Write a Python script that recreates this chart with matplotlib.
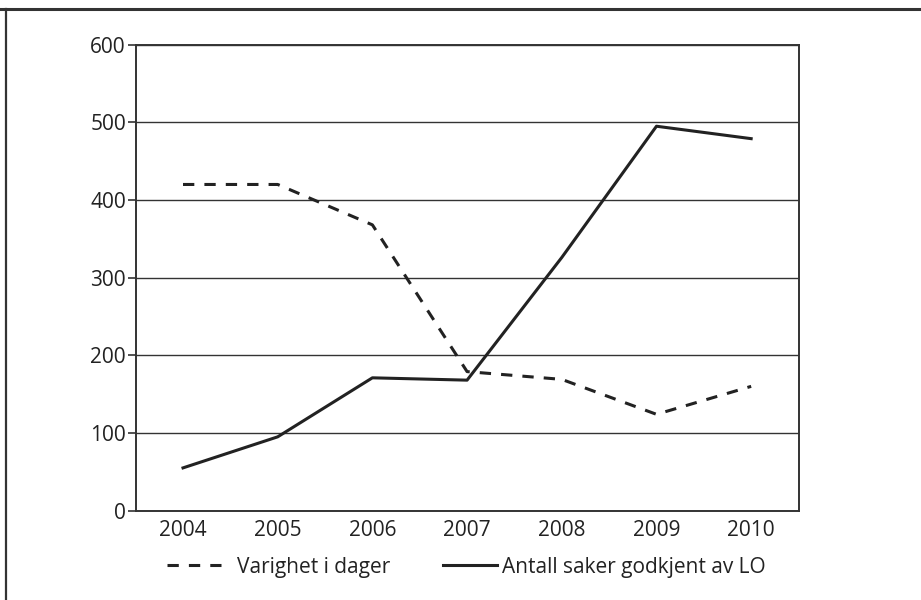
import matplotlib.pyplot as plt
from matplotlib.lines import Line2D

# Data
years = ['2004', '2005', '2006', '2007', '2008', '2009', '2010']
varighet = [420, 420, 368, 179, 169, 124, 160]
antall_saker = [55, 95, 171, 168, 326, 495, 479]
y_ticks = [0, 100, 200, 300, 400, 500, 600]

plt.rcParams['font.family'] = ['Open Sans', 'DejaVu Sans']

fig = plt.figure(figsize=(9.21, 6), dpi=100)
ax = fig.add_axes([0.1473, 0.149, 0.7197, 0.7765])

x = range(len(years))
line1, = ax.plot(x, varighet, color='#222222', lw=2.2, dashes=(3.7, 3.3))
line2, = ax.plot(x, antall_saker, color='#222222', lw=2.2)

ax.set_xlim(-0.5, len(years) - 0.5)
ax.set_ylim(0, 600)
ax.set_yticks(y_ticks)
ax.set_xticks(list(x))
ax.set_xticklabels(years)

# horizontal grid lines
ax.yaxis.grid(True, color='#333333', lw=1.0)
ax.set_axisbelow(True)

for s in ax.spines.values():
    s.set_color('#333333')
    s.set_linewidth(1.4)

ax.tick_params(axis='y', length=6, width=1.2, color='#333333', pad=1,
               labelsize=15, labelcolor='#222222')
ax.tick_params(axis='x', length=0, pad=7, labelsize=15, labelcolor='#222222')

# two legend entries placed separately like in the original
leg_kw = dict(frameon=False, fontsize=15, handlelength=2.6, borderpad=0,
              borderaxespad=0, loc='center left', labelcolor='#222222')
leg1 = fig.legend([line1], ['Varighet i dager'], bbox_to_anchor=(0.1813, 0.055),
                  handletextpad=0.75, **leg_kw)
leg2 = fig.legend([line2], ['Antall saker godkjent av LO'], bbox_to_anchor=(0.481, 0.055),
                  handletextpad=0.25, **leg_kw)

# outer frame of the figure box
fig.add_artist(Line2D([0, 1], [0.985, 0.985], transform=fig.transFigure,
                      color='#333333', lw=2.2))
fig.add_artist(Line2D([0.0065, 0.0065], [0, 0.985], transform=fig.transFigure,
                      color='#333333', lw=1.6))

fig.savefig('out.png', dpi=100)
